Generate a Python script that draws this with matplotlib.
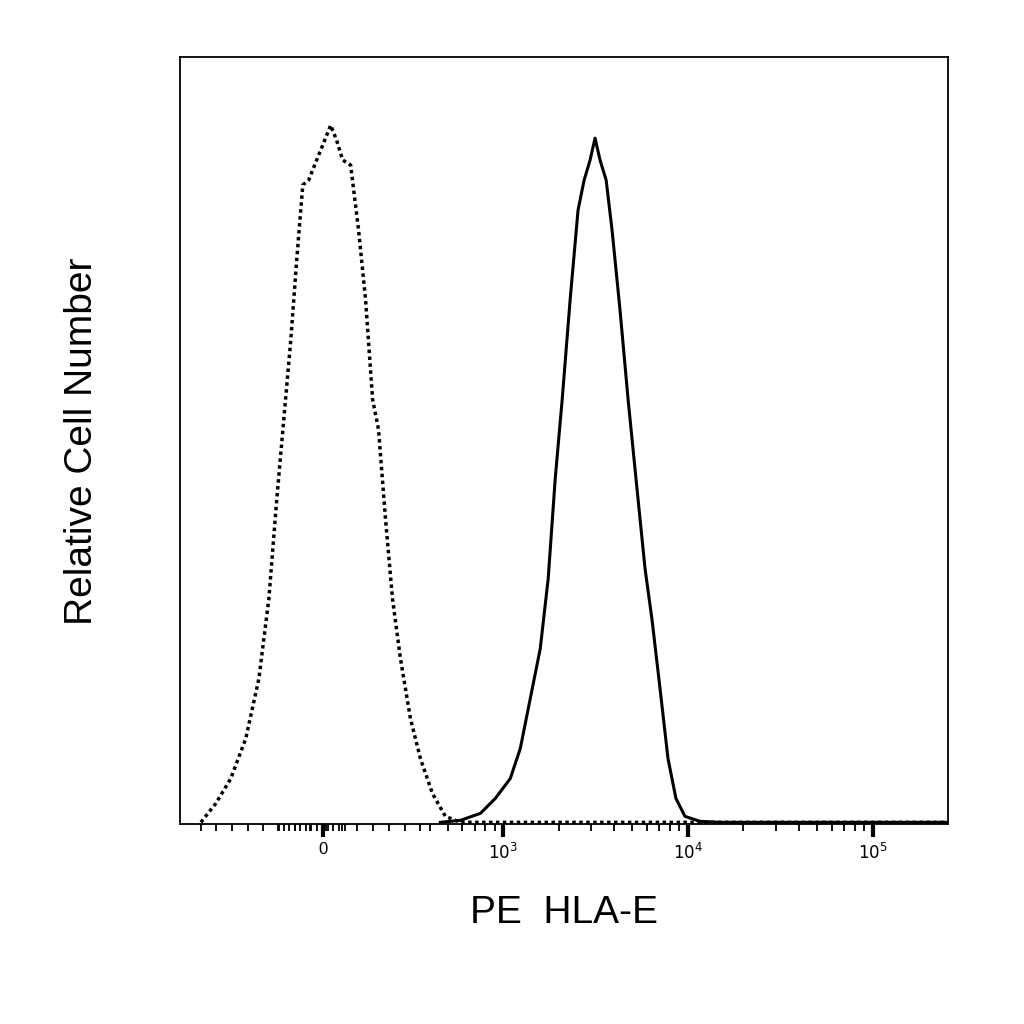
import matplotlib
matplotlib.use("Agg")
import matplotlib.pyplot as plt
import numpy as np

plt.rcParams['font.family'] = ['Liberation Sans', 'DejaVu Sans']

# x in display decade units (10^3 -> 3, 10^4 -> 4, 0 -> ~2.02)
iso_x = [1.362,1.443,1.524,1.605,1.676,1.730,1.773,1.811,1.849,1.881,1.914,1.946,1.978,2.022,2.065,2.097,2.130,2.173,2.216,2.254,2.292,2.324,2.362,2.400,2.443,2.497,2.551,2.616,2.686,2.768,5.41]
iso_y = [0,19,44,84,144,224,324,404,484,564,639,644,659,679,699,684,664,659,594,524,424,394,304,224,164,104,64,29,6,0,0]
hla_x = [2.659,2.768,2.876,2.957,3.038,3.092,3.146,3.200,3.243,3.281,3.319,3.362,3.405,3.438,3.470,3.497,3.524,3.557,3.589,3.632,3.676,3.719,3.768,3.805,3.849,3.892,3.935,3.984,4.065,4.173,5.41]
hla_y = [0,2,9,24,44,74,124,174,244,344,424,524,614,644,664,686,664,644,594,514,424,344,254,204,134,64,24,6,1,0,0]
major_pos = [2.022, 3, 4, 5]
major_lbl = ["0", r"$10^3$", r"$10^4$", r"$10^5$"]

fig = plt.figure(figsize=(10.24, 10.24), dpi=100)
ax = fig.add_axes([0.176, 0.195, 0.75, 0.749])
ax.plot(iso_x, iso_y, color="black", lw=2.5, ls=(0, (1, 1)))
ax.plot(hla_x, hla_y, color="black", lw=2.2)
ax.set_xlim(1.25, 5.41)
ax.set_ylim(-2, 767)
ax.set_yticks([])

minor = [np.log10(k * 10**d) for d in (2, 3, 4) for k in range(2, 10)]
minor = [m for m in minor if 2.6 < m < 5.41]
minor += list(np.arange(1.36, 2.6, 0.085))
minor += list(np.arange(1.78, 2.14, 0.03))
ax.set_xticks(major_pos)
ax.set_xticklabels(major_lbl, fontsize=12)
ax.set_xticks(minor, minor=True)
ax.tick_params(axis="x", which="major", length=9, width=3, direction="out")
ax.tick_params(axis="x", which="minor", length=5, width=1.3, direction="out")
for s in ax.spines.values():
    s.set_linewidth(1.3)
ax.set_xlabel("PE  HLA-E", fontsize=28, labelpad=24)
ax.set_ylabel("Relative Cell Number", fontsize=28, labelpad=58)
fig.savefig("out.png", dpi=100)
